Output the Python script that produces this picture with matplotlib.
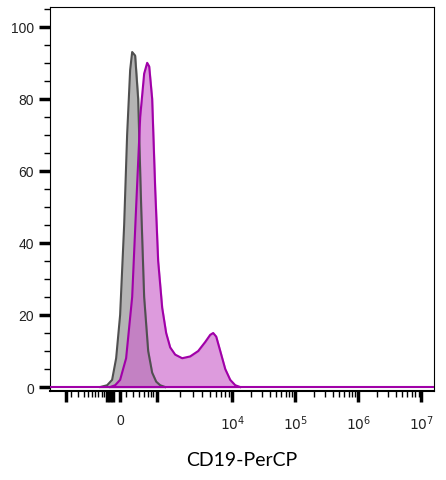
import matplotlib
matplotlib.use("Agg")
import matplotlib.pyplot as plt
import numpy as np

plt.rcParams['font.family'] = ['Liberation Sans', 'DejaVu Sans']

# x in display-decade units (10^4 -> 4 etc.; "0" sits at ~2.22)
gray_x = [1.905, 2.016, 2.095, 2.159, 2.222, 2.286, 2.333, 2.381, 2.413, 2.460, 2.508, 2.556, 2.603, 2.667, 2.730, 2.794, 2.857, 2.937]
gray_y = [0, 0.5, 2, 8, 20, 45, 70, 88, 93, 92, 80, 50, 25, 10, 4, 1.5, 0.5, 0]
mag_x = [2.063, 2.143, 2.222, 2.317, 2.413, 2.476, 2.540, 2.603, 2.651, 2.683, 2.730, 2.778, 2.825, 2.889, 2.952, 3.016, 3.095, 3.206, 3.333, 3.460, 3.571, 3.651, 3.698, 3.746, 3.810, 3.889, 3.968, 4.048, 4.127]
mag_y = [0, 0.5, 2, 8, 25, 50, 75, 87, 90, 89, 80, 55, 35, 22, 15, 11, 9, 8, 8.5, 10, 12.5, 14.5, 15, 14, 10, 5, 2, 0.5, 0]
major_ticks = [2.222, 4, 5, 6, 7]
major_labels = ["0", "$10^4$", "$10^5$", "$10^6$", "$10^7$"]
extra_major = [1.365, 2.016, 2.063, 2.111, 2.810]
xlabel = "CD19-PerCP"

fig = plt.figure(figsize=(4.46, 4.81), dpi=100)
ax = fig.add_axes([50/446, 1-392/481, 384/446, 384/481])
ax.fill_between(gray_x, gray_y, color='#b4b4b4', zorder=1)
ax.plot(gray_x, gray_y, color='#505050', lw=1.5, zorder=3)
ax.fill_between(mag_x, mag_y, color='#cc66cc', alpha=0.65, zorder=2)
ax.plot(mag_x, mag_y, color='#a000a8', lw=1.5, zorder=4)
ax.axhline(0, color='#a000a8', lw=1.5, zorder=4)

ax.set_xlim(1.11, 7.2)
ax.set_ylim(-1.1, 105.5)
ax.set_yticks([0, 20, 40, 60, 80, 100])
ax.set_yticks(np.arange(0, 106, 5), minor=True)
ax.set_xticks(major_ticks + extra_major)
ax.set_xticklabels(major_labels + [""] * len(extra_major))
minor = []
for d in range(4, 7):
    minor += [d + np.log10(k) for k in range(2, 10)]
minor += [2.81 + (4 - 2.81) * np.log10(k) for k in range(2, 10)]
minor += [1.45, 1.55, 1.65, 1.72, 1.78, 1.83, 1.87, 1.93, 1.97]
minor += [2.32, 2.42, 2.52, 2.60, 2.66, 2.71, 2.75]
ax.set_xticks(minor, minor=True)
ax.tick_params(axis='both', which='major', direction='out', length=8, width=2.5, labelsize=10, labelcolor='#222222')
ax.tick_params(axis='both', which='minor', direction='out', length=4, width=1)
ax.tick_params(axis='x', which='major', pad=8)
for s in ax.spines.values():
    s.set_linewidth(0.8)
ax.spines['bottom'].set_linewidth(1.5)
ax.set_xlabel(xlabel, fontsize=14, family=['Lato', 'DejaVu Sans'], labelpad=14)
fig.savefig("out.png", dpi=100)
